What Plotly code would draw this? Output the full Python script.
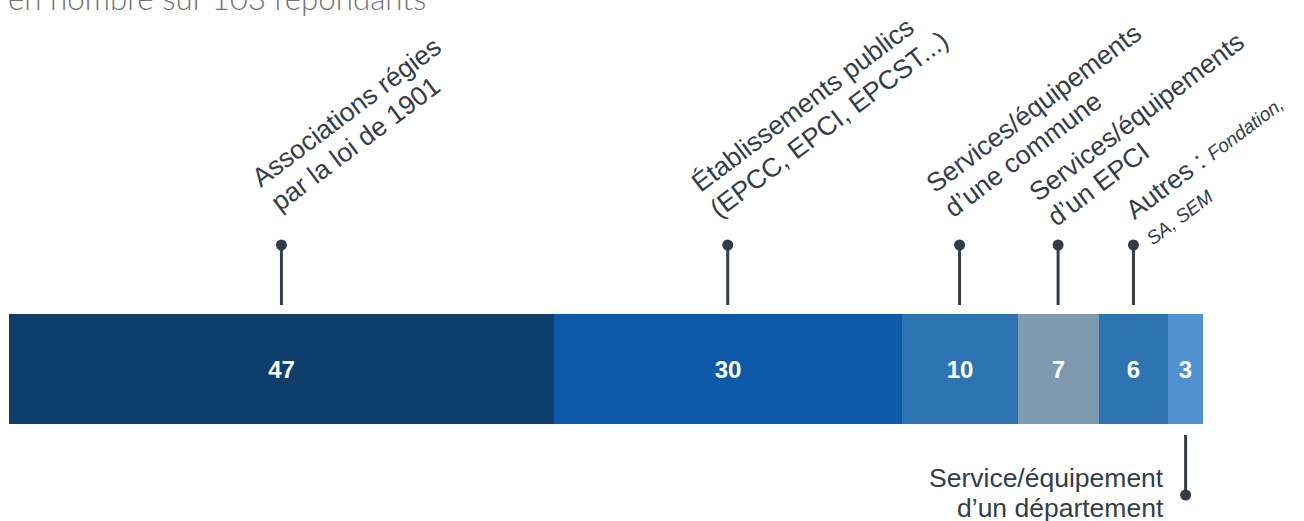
import math
import plotly.graph_objects as go

# ---- data ----
categories = [
    "Associations régies<br>par la loi de 1901",
    "Établissements publics<br>(EPCC, EPCI, EPCST...)",
    "Services/équipements<br>d’une commune",
    "Services/équipements<br>d’un EPCI",
    "Autres : <span style='font-size:19px'><i>Fondation,</i></span><br><span style='font-size:19px'><i>SA, SEM</i></span>",
    "Service/équipement<br>d’un département",
]
values = [47, 30, 10, 7, 6, 3]
colors = ["#0f3e6d", "#0e5aa8", "#2e74b2", "#7d9aae", "#2e74b2", "#5092cf"]
label_above = [True, True, True, True, True, False]
title_text = "en nombre sur 103 répondants"

# ---- layout (vertical axis in screen pixels) ----
W, H = 1304, 521
PLOT_L, PLOT_R = 9, 1203
bar_center, bar_height = 369, 110
dot_top, line_top_end = 245, 305
line_bot_start, dot_bot = 435, 495
# first-line baseline start of each rotated label: (pixel offset from segment centre, pixel y)
label_starts = [(-22, 189), (-29, 195), (-26, 195), (-22, 204), (-1, 222)]
line_sizes = [[26.5, 26.5], [26.5, 26.5], [26.5, 26.5], [26.5, 26.5], [26.5, 19]]
ANGLE = 37
LINE_GAP = 31.5
FS = 26.5
ink = "#333d47"
FONT = "Liberation Sans, Arial, Helvetica, sans-serif"

bases = []
acc = 0
for v in values:
    bases.append(acc)
    acc += v
total = acc
mids = [b + v / 2 for b, v in zip(bases, values)]

fig = go.Figure()
fig.add_trace(go.Bar(
    orientation="h",
    x=values,
    base=bases,
    y=[bar_center] * len(values),
    width=bar_height,
    marker=dict(color=colors, line=dict(width=0)),
    text=[str(v) for v in values],
    textposition="inside",
    insidetextanchor="middle",
    textangle=0,
    textfont=dict(family=FONT, size=24, color="white", weight="bold"),
    hoverinfo="skip",
    showlegend=False,
))

sn, cs = math.sin(math.radians(ANGLE)), math.cos(math.radians(ANGLE))
dots_x, dots_y = [], []
annotations = []
shapes = []
ai = 0
for i, (cat, m) in enumerate(zip(categories, mids)):
    lines = cat.split("<br>")
    if label_above[i]:
        shapes.append(dict(type="line", xref="x", yref="y", x0=m, x1=m,
                           y0=dot_top, y1=line_top_end, line=dict(color=ink, width=3)))
        dots_x.append(m); dots_y.append(dot_top)
        dx0, y0 = label_starts[ai]
        sizes = line_sizes[ai]
        ai += 1
        for k, ln in enumerate(lines):
            fs = sizes[k]
            px = dx0 + k * LINE_GAP * sn
            py = y0 + k * LINE_GAP * cs
            h = 1.117 * fs + 2
            d = 0.212 * fs + 1
            pad = 1
            ax = px - ((h - d) * sn + pad * cs)
            ay = py + (pad * sn + d * cs)
            annotations.append(dict(x=m, y=ay, xref="x", yref="y", xshift=ax,
                                    text=ln, showarrow=False, textangle=-ANGLE,
                                    xanchor="left", yanchor="bottom",
                                    font=dict(family=FONT, size=fs, color=ink)))
    else:
        shapes.append(dict(type="line", xref="x", yref="y", x0=m, x1=m,
                           y0=line_bot_start, y1=dot_bot, line=dict(color=ink, width=3)))
        dots_x.append(m); dots_y.append(dot_bot)
        for k, ln in enumerate(lines):
            base_y = 487 + k * 30
            h = 1.117 * FS + 2
            d = 0.212 * FS + 1
            annotations.append(dict(x=m, y=base_y + d - h / 2, xref="x", yref="y", xshift=-20,
                                    text=ln, showarrow=False, align="right",
                                    xanchor="right", yanchor="middle",
                                    font=dict(family=FONT, size=FS, color=ink)))

fig.add_trace(go.Scatter(x=dots_x, y=dots_y, mode="markers",
                         marker=dict(size=11, color=ink), hoverinfo="skip", showlegend=False))

annotations.append(dict(x=0, y=1, xref="paper", yref="paper", xanchor="left", yanchor="bottom",
                        xshift=-3, yshift=-19, text=title_text, showarrow=False,
                        font=dict(family="Lato, Roboto, sans-serif", size=31.3, color="#747474", weight=300)))

fig.update_layout(
    width=W, height=H,
    margin=dict(l=PLOT_L, r=W - PLOT_R, t=0, b=0),
    paper_bgcolor="white", plot_bgcolor="white",
    xaxis=dict(range=[0, total], visible=False, fixedrange=True),
    yaxis=dict(range=[H, 0], visible=False, fixedrange=True),
    shapes=shapes,
    annotations=annotations,
    bargap=0,
)

fig.write_html("out.html", config={"displayModeBar": False},
               post_script="document.body.style.margin='0';document.body.style.overflow='hidden';")
